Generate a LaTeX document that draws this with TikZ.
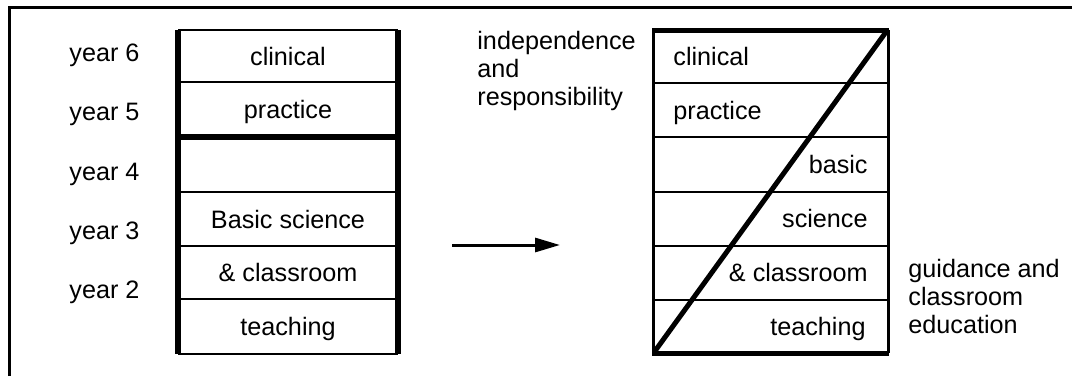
\documentclass[tikz,border=0pt]{standalone}
\usepackage{fontspec}
\setmainfont{Liberation Sans}
\usetikzlibrary{arrows.meta}

\begin{document}
\begin{tikzpicture}[x=0.5pt,y=-0.5pt,>={Triangle[length=12.5pt,width=7pt]},
  txt/.style={font=\fontsize{12.6}{14}\selectfont,inner sep=0pt},
  rule/.style={line width=1pt},
  heavy/.style={line width=3pt},
  frame/.style={line width=1.5pt}]

  \useasboundingbox (0,0) rectangle (1072,376);

  % outer frame
  \draw[frame] (9,376) -- (9,7) -- (1072,7);

  % year labels
  \node[txt,anchor=base west] (Y6) at (69,61) {year 6};
  \node[txt,anchor=base west] (Y5) at (69,120) {year 5};
  \node[txt,anchor=base west] (Y4) at (69,180) {year 4};
  \node[txt,anchor=base west] (Y3) at (69,239) {year 3};
  \node[txt,anchor=base west] (Y2) at (69,298) {year 2};

  % old curriculum
  \draw[rule] (178,30) -- (398,30);
  \draw[rule] (178,82) -- (398,82);
  \draw[heavy] (178,137) -- (398,137);
  \draw[rule] (178,192) -- (398,192);
  \draw[rule] (178,246) -- (398,246);
  \draw[rule] (178,299) -- (398,299);
  \draw[rule] (178,354) -- (398,354);
  \draw[heavy] (178,30) -- (178,354);
  \draw[heavy] (398,30) -- (398,354);

  \node[txt,anchor=base] (L1) at (288,65) {clinical};
  \node[txt,anchor=base] (L2) at (288,118) {practice};
  \node[txt,anchor=base] (L3) at (288,228) {Basic science};
  \node[txt,anchor=base] (L4) at (288,281) {\& classroom};
  \node[txt,anchor=base] (L5) at (288,335) {teaching};

  % arrow
  \coordinate (A0) at (452,245);
  \coordinate (A1) at (560,245);
  \draw[->,frame] (A0) -- (A1);

  % new curriculum
  \draw[rule] (653,83) -- (888,83);
  \draw[rule] (653,137) -- (888,137);
  \draw[rule] (653,192) -- (888,192);
  \draw[rule] (653,246) -- (888,246);
  \draw[rule] (653,300) -- (888,300);
  \draw[frame] (653,30) -- (653,353);
  \draw[frame] (888,30) -- (888,353);
  \draw[line width=2.5pt] (652,30) -- (889,30);
  \draw[line width=2.5pt] (652,353) -- (889,353);

  \coordinate (SW) at (655,351);
  \coordinate (NE) at (886,32);
  \draw[line width=2.5pt] (SW) -- (NE);

  \node[txt,anchor=base west] (R1) at (673,65) {clinical};
  \node[txt,anchor=base west] (R2) at (673,119) {practice};
  \node[txt,anchor=base east] (R3) at (868,173) {basic};
  \node[txt,anchor=base east] (R4) at (868,227) {science};
  \node[txt,anchor=base east] (R5) at (868,281) {\& classroom};
  \node[txt,anchor=base east] (R6) at (866,335) {teaching};

  \node[txt,anchor=north west,align=left] (IR) at (477,31)
    {independence\\and\\responsibility};
  \node[txt,anchor=north west,align=left] (GC) at (908,259)
    {guidance and\\classroom\\education};

\end{tikzpicture}
\end{document}
